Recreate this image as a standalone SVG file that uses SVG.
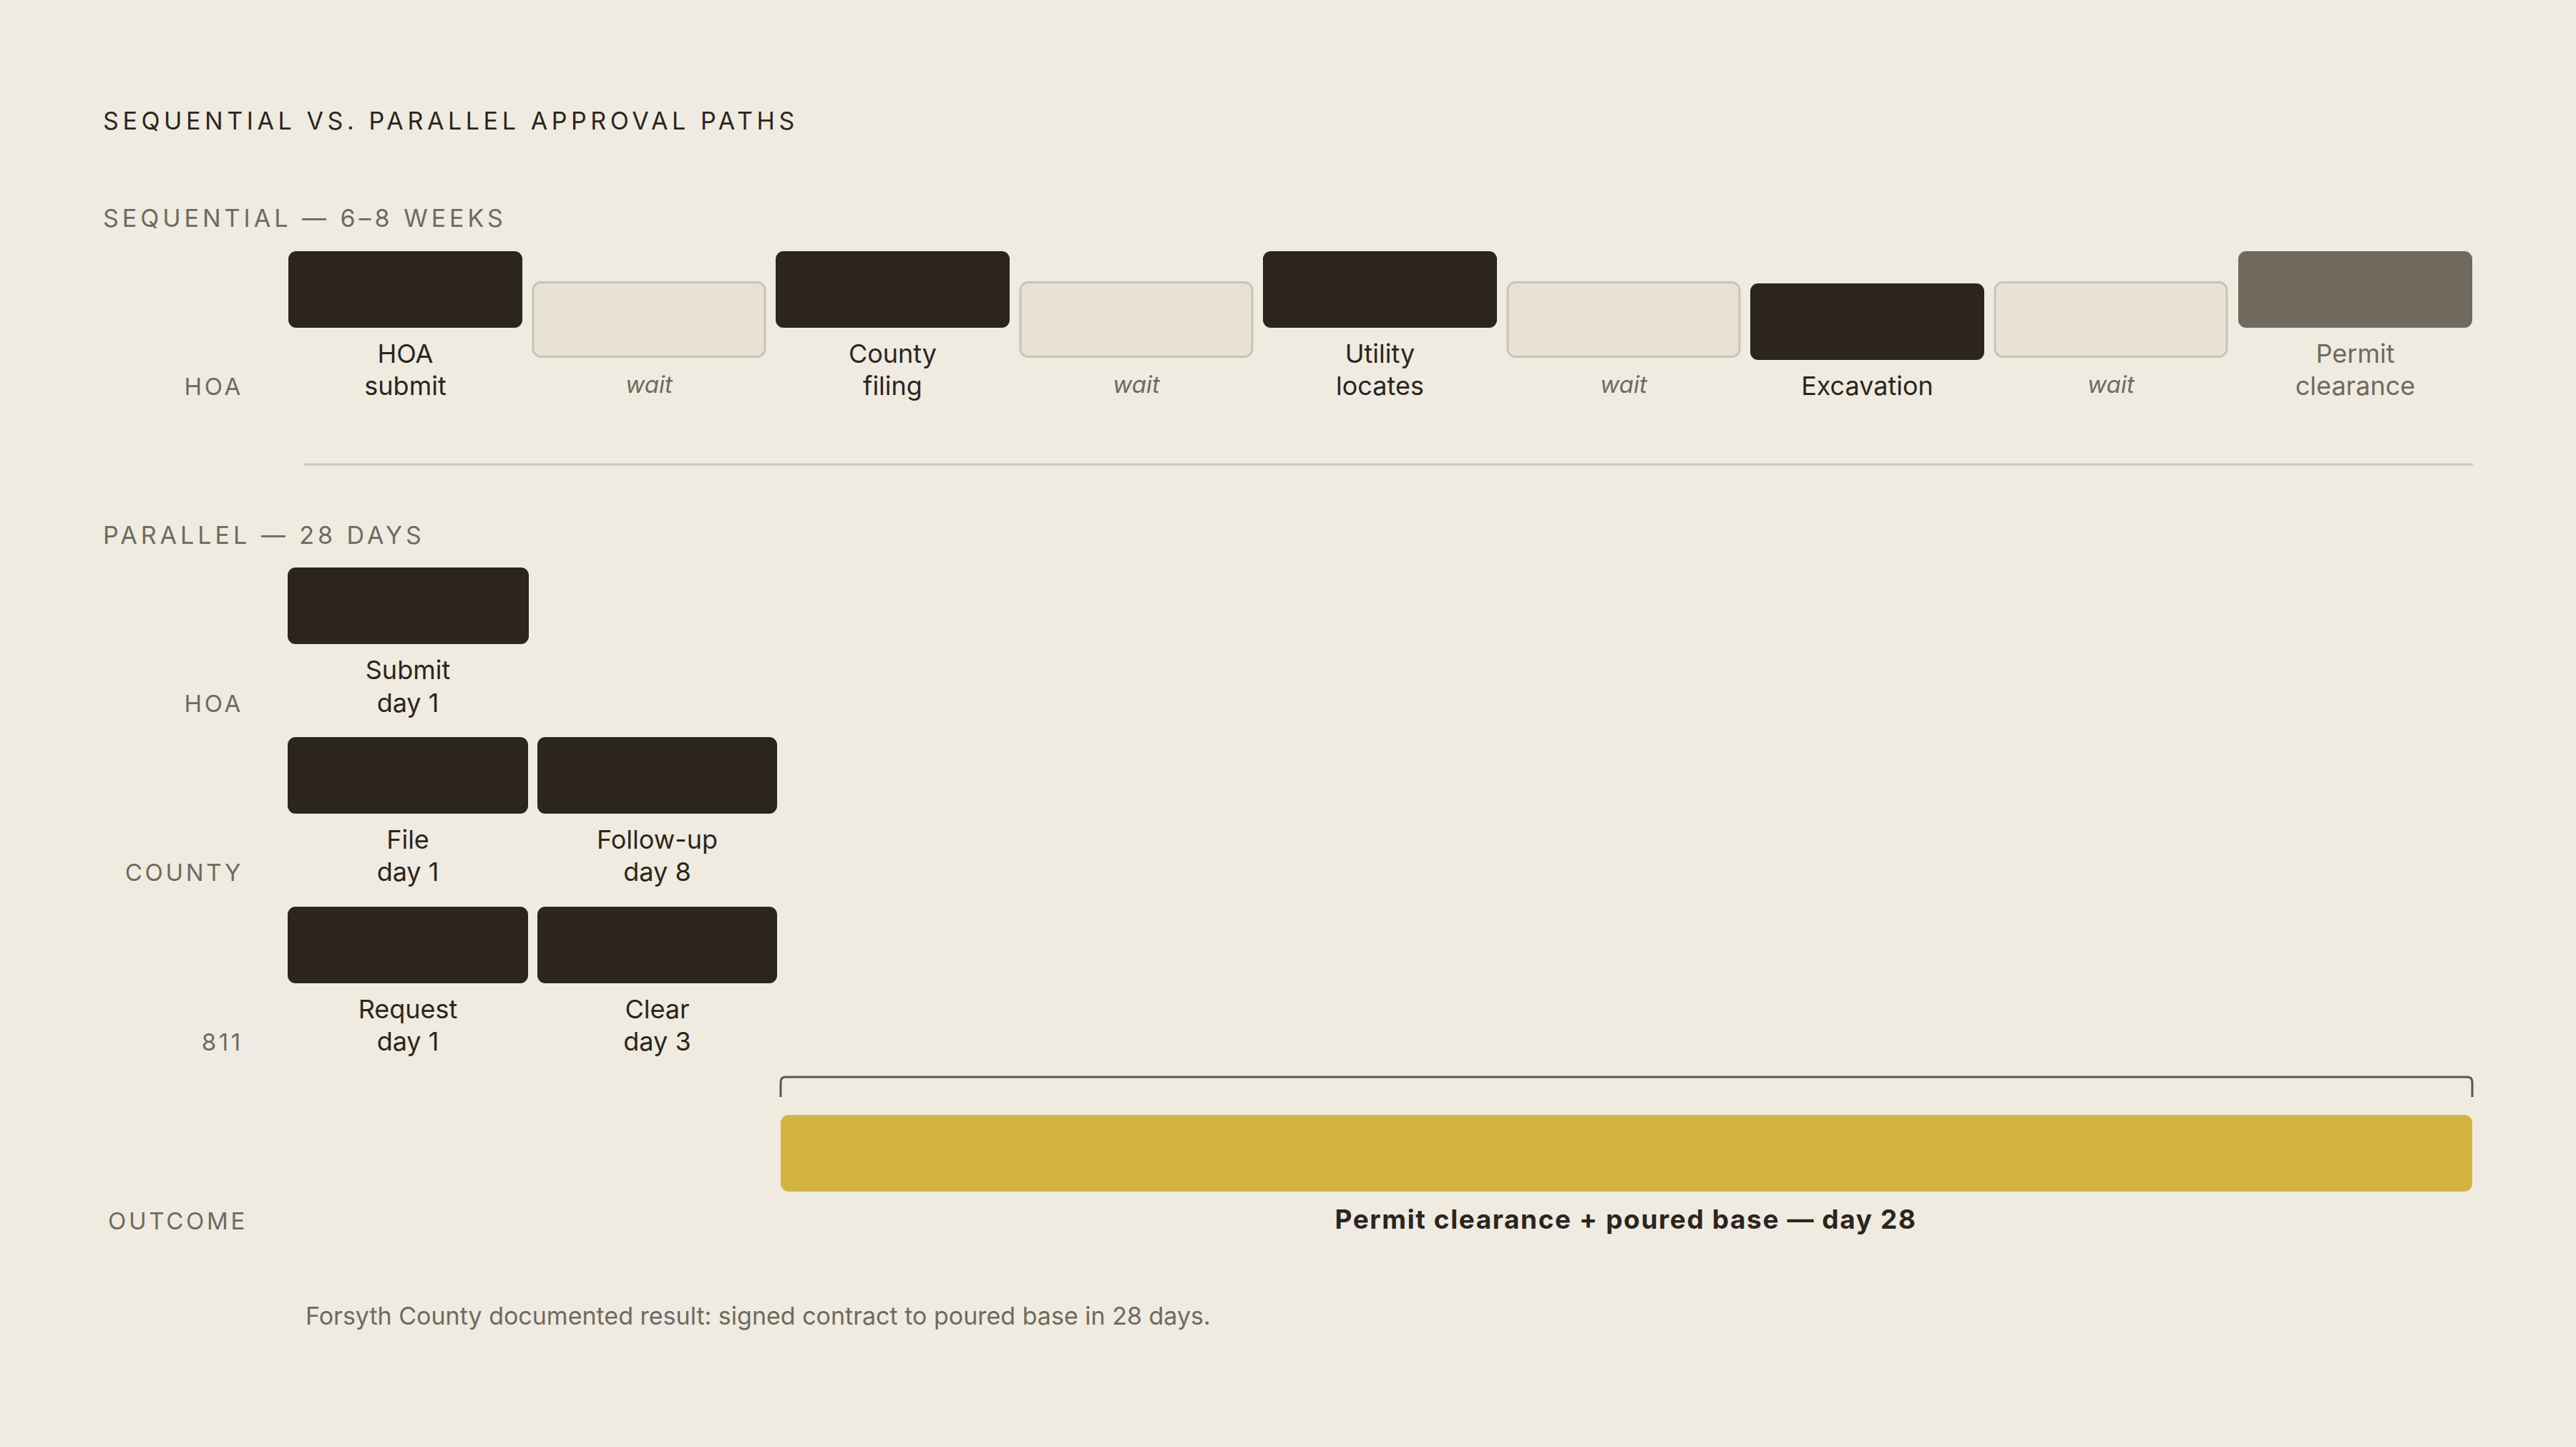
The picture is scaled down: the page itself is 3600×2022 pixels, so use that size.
<svg xmlns="http://www.w3.org/2000/svg" width="3600" height="2022" viewBox="0 0 3600 2022">
<style>
text{font-family:Inter,"Open Sans","Liberation Sans",sans-serif}
.title{font-size:34px;fill:#2c251c;letter-spacing:5.6px}
.sec{font-size:34px;fill:#6f6a5e;letter-spacing:5px}
.row{font-size:33px;fill:#6f6a5e;letter-spacing:3.7px;text-anchor:end}
.lbl{font-size:36px;fill:#2c251c;text-anchor:middle}
.lblg{font-size:36px;fill:#6f6a5e;text-anchor:middle}
.wait{font-size:33px;fill:#6f6a5e;text-anchor:middle;font-style:italic}
.dark{fill:#2c251c}
.waitbox{fill:#e8e1d6;stroke:#cbc3b4;stroke-width:3}
.grey{fill:#706a5e}
.gold{fill:#d4b441}
.out{font-size:37px;fill:#2c251c;font-weight:700;text-anchor:middle;letter-spacing:1.6px}
.foot{font-size:34px;fill:#6f6a5e}
</style>
<rect width="3600" height="2022" fill="#efebe1"/>
<text class="title" x="144" y="181">SEQUENTIAL VS. PARALLEL APPROVAL PATHS</text>
<text class="sec" x="144" y="317">SEQUENTIAL — 6–8 WEEKS</text>
<text class="row" x="340" y="552">HOA</text>

<g id="seq-hoa-submit"><rect class="dark" x="403" y="351" width="327" height="107" rx="11"/><text class="lbl" x="566.5" y="507">HOA</text><text class="lbl" x="566.5" y="552">submit</text></g>
<g id="seq-wait-1"><rect class="waitbox" x="745" y="394.5" width="324" height="104" rx="11"/><text class="wait" x="907" y="549">wait</text></g>
<g id="seq-county-filing"><rect class="dark" x="1084" y="351" width="327" height="107" rx="11"/><text class="lbl" x="1247.5" y="507">County</text><text class="lbl" x="1247.5" y="552">filing</text></g>
<g id="seq-wait-2"><rect class="waitbox" x="1426" y="394.5" width="324" height="104" rx="11"/><text class="wait" x="1588" y="549">wait</text></g>
<g id="seq-utility"><rect class="dark" x="1765" y="351" width="327" height="107" rx="11"/><text class="lbl" x="1928.5" y="507">Utility</text><text class="lbl" x="1928.5" y="552">locates</text></g>
<g id="seq-wait-3"><rect class="waitbox" x="2107" y="394.5" width="324" height="104" rx="11"/><text class="wait" x="2269" y="549">wait</text></g>
<g id="seq-excavation"><rect class="dark" x="2446" y="396" width="327" height="107" rx="11"/><text class="lbl" x="2609.5" y="552">Excavation</text></g>
<g id="seq-wait-4"><rect class="waitbox" x="2788" y="394.5" width="324" height="104" rx="11"/><text class="wait" x="2950" y="549">wait</text></g>
<g id="seq-permit"><rect class="grey" x="3128" y="351" width="327" height="107" rx="11"/><text class="lblg" x="3291.5" y="507">Permit</text><text class="lblg" x="3291.5" y="552">clearance</text></g>

<line x1="425" y1="649" x2="3456" y2="649" stroke="#d0c8b8" stroke-width="3"/>

<text class="sec" x="144" y="760">PARALLEL — 28 DAYS</text>
<text class="row" x="340" y="995">HOA</text>
<text class="row" x="340" y="1231">COUNTY</text>
<text class="row" x="340" y="1468">811</text>

<g id="par-hoa-submit"><rect class="dark" x="402" y="793" width="337" height="107" rx="11"/><text class="lbl" x="570" y="949">Submit</text><text class="lbl" x="570" y="995">day 1</text></g>
<g id="par-county-file"><rect class="dark" x="402" y="1030" width="336" height="107" rx="11"/><text class="lbl" x="570" y="1186">File</text><text class="lbl" x="570" y="1231">day 1</text></g>
<g id="par-county-followup"><rect class="dark" x="751" y="1030" width="335" height="107" rx="11"/><text class="lbl" x="918.5" y="1186">Follow-up</text><text class="lbl" x="918.5" y="1231">day 8</text></g>
<g id="par-811-request"><rect class="dark" x="402" y="1267" width="336" height="107" rx="11"/><text class="lbl" x="570" y="1423">Request</text><text class="lbl" x="570" y="1468">day 1</text></g>
<g id="par-811-clear"><rect class="dark" x="751" y="1267" width="335" height="107" rx="11"/><text class="lbl" x="918.5" y="1423">Clear</text><text class="lbl" x="918.5" y="1468">day 3</text></g>

<g id="connectors">
<path d="M1091,1533 V1512 Q1091,1505 1098,1505 H3448 Q3455,1505 3455,1512 V1533" fill="none" stroke="#4d5e45" stroke-width="3"/>
</g>

<text class="row" x="346" y="1718">OUTCOME</text>
<g id="outcome"><rect class="gold" x="1091" y="1558" width="2364" height="107" rx="11"/><text class="out" x="2272" y="1717">Permit clearance + poured base — day 28</text></g>

<text class="foot" x="427" y="1851">Forsyth County documented result: signed contract to poured base in 28 days.</text>
</svg>
